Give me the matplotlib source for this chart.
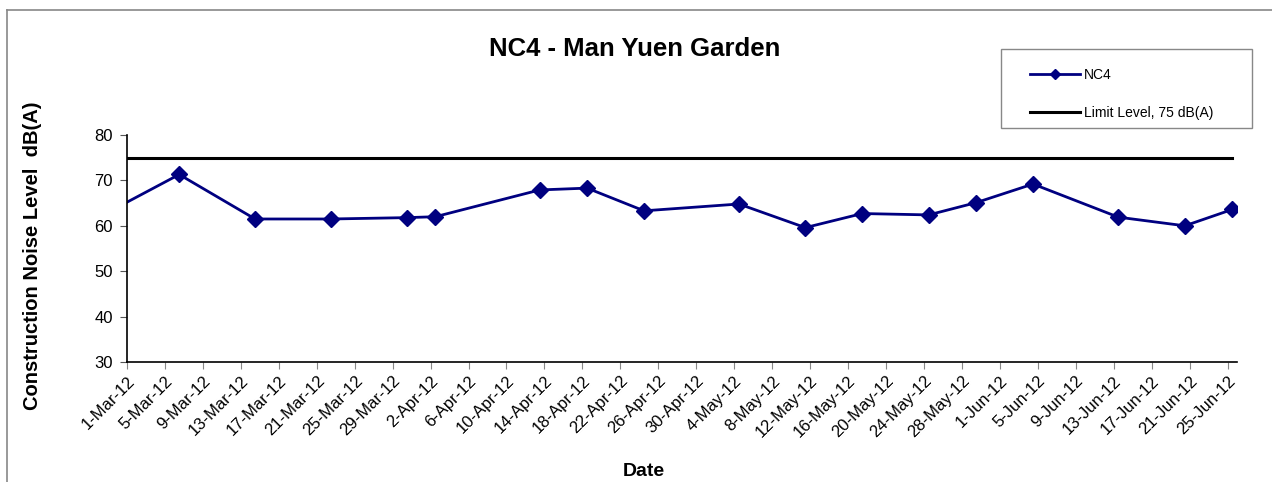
import datetime as dt
import matplotlib
matplotlib.use("Agg")
import matplotlib.pyplot as plt
from matplotlib.lines import Line2D
from matplotlib.patches import Rectangle

plt.rcParams['font.family'] = ['Liberation Sans', 'DejaVu Sans']

# data (first point sits before the axis start and gets clipped)
dates = ["2012-02-24", "2012-03-06", "2012-03-14", "2012-03-22", "2012-03-30",
         "2012-04-02", "2012-04-13", "2012-04-18", "2012-04-24", "2012-05-04",
         "2012-05-11", "2012-05-17", "2012-05-24", "2012-05-29", "2012-06-04",
         "2012-06-13", "2012-06-20", "2012-06-25"]
nc4 = [59.1, 71.3, 61.5, 61.5, 61.8, 62.0, 67.9, 68.3, 63.3, 64.8,
       59.6, 62.7, 62.4, 65.1, 69.2, 61.9, 60.0, 63.6]
limit = [75] * len(dates)

title = "NC4 - Man Yuen Garden"
ylabel = "Construction Noise Level  dB(A)"
xlabel = "Date"

# excel date axis puts points in the middle of the day
x = [dt.datetime.strptime(d, "%Y-%m-%d") + dt.timedelta(hours=12) for d in dates]
x_start = dt.datetime(2012, 3, 1)
x_end = dt.datetime(2012, 6, 26)
ticks = [x_start + dt.timedelta(days=4 * i) for i in range(30)]

fig = plt.figure(figsize=(12.72, 4.82), dpi=100)
ax = fig.add_axes([127 / 1272, 1 - 362 / 482, (1237 - 127) / 1272, (362 - 135) / 482])

ax.plot(x, nc4, color='#000080', lw=2, marker='D', ms=8, label='NC4')
ax.plot(x, limit, color='black', lw=2.2, label='Limit Level, 75 dB(A)')

ax.set_xlim(x_start, x_end)
ax.set_ylim(30, 80)
ax.set_yticks(range(30, 81, 10))
ax.set_xticks(ticks)
ax.set_xticklabels([f"{d.day}-{d:%b-%y}" for d in ticks], rotation=45,
                   ha='right', rotation_mode='anchor', fontsize=12)
ax.tick_params(axis='y', labelsize=12, length=5, color='#555555', pad=5)
ax.tick_params(axis='x', length=5, color='#888888', pad=3)
for s in ['top', 'right']:
    ax.spines[s].set_visible(False)
for s in ['left', 'bottom']:
    ax.spines[s].set_linewidth(1.2)

fig.text(33 / 1272, 1 - 256 / 482, ylabel, fontsize=14.5, fontweight='bold',
         rotation=90, ha='center', va='center')
fig.text(644 / 1272, 1 - 471 / 482, xlabel, fontsize=14, fontweight='bold',
         ha='center', va='center')
fig.text(635 / 1272, 1 - 49 / 482, title, fontsize=18.5, fontweight='bold',
         ha='center', va='center')

# legend with a hand drawn box
fig.add_artist(Rectangle((1001 / 1272, 1 - 128 / 482), 251 / 1272, 79 / 482,
                         transform=fig.transFigure, fill=False,
                         edgecolor='#888888', lw=1))
handles, labels = ax.get_legend_handles_labels()
handles[0] = Line2D([], [], color='#000080', lw=2, marker='D', ms=5)
fig.legend(handles, labels, loc='upper left', bbox_to_anchor=(1024 / 1272, 1 - 62 / 482),
           frameon=False, fontsize=10, handlelength=3.6, handletextpad=0.3,
           labelspacing=1.75, borderaxespad=0)

# outer chart border (partly outside the image)
fig.add_artist(Line2D([7 / 1272, 7 / 1272], [0, 1 - 10 / 482], transform=fig.transFigure,
                      color='#888888', lw=1.2))
fig.add_artist(Line2D([7 / 1272, 1], [1 - 10 / 482, 1 - 10 / 482], transform=fig.transFigure,
                      color='#888888', lw=1.2))

fig.savefig("out.png", dpi=100)
